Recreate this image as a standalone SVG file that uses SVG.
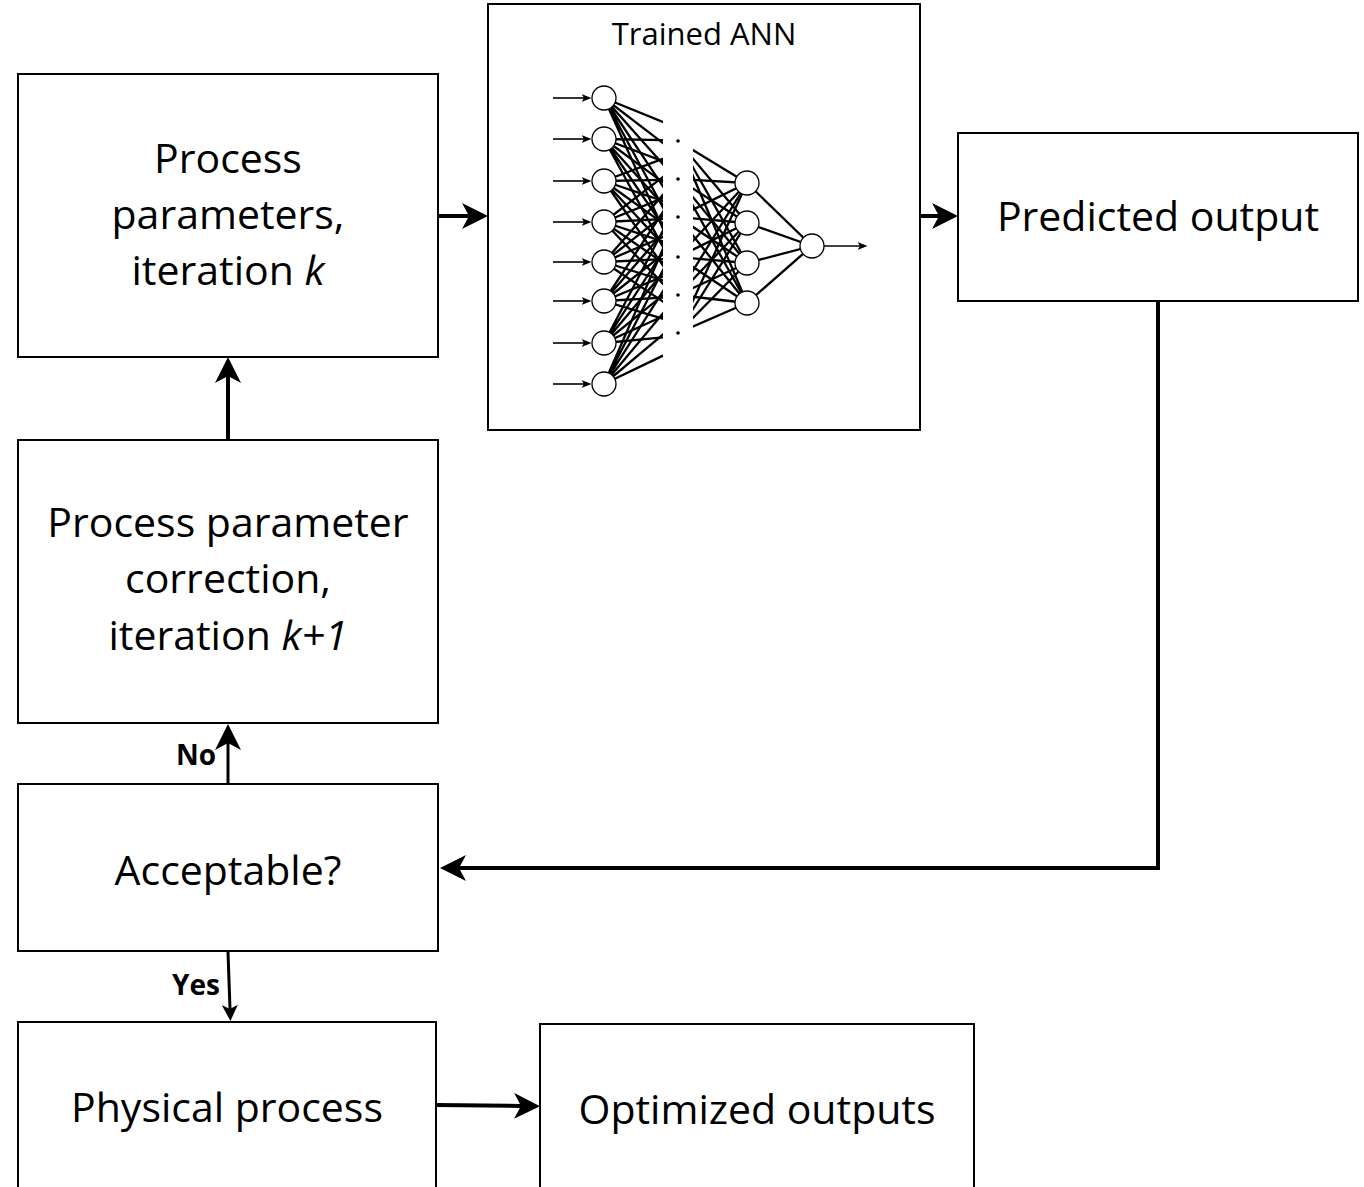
<svg xmlns="http://www.w3.org/2000/svg" width="1364" height="1187" viewBox="0 0 1364 1187">
<style>
.box{fill:#fff;stroke:#000;stroke-width:2}
.lbl{font-family:"Open Sans","Liberation Sans",sans-serif;font-size:41px;fill:#000;text-anchor:middle}
.ttl{font-family:"Open Sans","Liberation Sans",sans-serif;font-size:31px;fill:#000;text-anchor:middle}
.yn{font-family:"Open Sans","Liberation Sans",sans-serif;font-size:28px;font-weight:bold;fill:#000;text-anchor:end}
.conn{fill:none;stroke:#000;stroke-width:4}
.thin{fill:none;stroke:#000;stroke-width:3}
.net{fill:none;stroke:#000;stroke-width:2.3}
.io{fill:none;stroke:#000;stroke-width:1.6}
.node{fill:#fff;stroke:#000;stroke-width:1.3}
</style>
<defs>
<marker id="ah" viewBox="0 0 26 26" markerWidth="26" markerHeight="26" markerUnits="userSpaceOnUse" refX="7" refY="13" orient="auto">
<path d="M0,0 L26,13 L0,26 L7,13 z" fill="#000"/>
</marker>
<marker id="ahs" viewBox="0 0 16 16" markerWidth="16" markerHeight="16" markerUnits="userSpaceOnUse" refX="4" refY="8" orient="auto">
<path d="M0,0 L16,8 L0,16 L4,8 z" fill="#000"/>
</marker>
<marker id="ahx" viewBox="0 0 10 8" markerWidth="10" markerHeight="8" markerUnits="userSpaceOnUse" refX="2.5" refY="4" orient="auto">
<path d="M0,0 L10,4 L0,8 L2.5,4 z" fill="#000"/>
</marker>
<clipPath id="clipL"><rect x="540" y="60" width="123" height="350"/></clipPath>
<clipPath id="clipR"><rect x="693" y="60" width="80" height="350"/></clipPath>
</defs>

<g id="connectors">
<path class="conn" d="M438,216 L469,216" marker-end="url(#ah)"/>
<path class="conn" d="M920,216 L939,216" marker-end="url(#ah)"/>
<path class="conn" d="M228,440 L228,376" marker-end="url(#ah)"/>
<path class="thin" d="M228,784 L228,743" marker-end="url(#ah)"/>
<path class="thin" d="M228,952 L230,1009" marker-end="url(#ahs)"/>
<path class="conn" d="M1158,301 L1158,868 L459,868" marker-end="url(#ah)"/>
<path class="conn" d="M436,1105 L521,1106" marker-end="url(#ah)"/>
<text class="yn" x="216" y="765">No</text>
<text class="yn" x="220" y="995">Yes</text>
</g>

<g id="node-params">
<rect class="box" x="18" y="74" width="420" height="283"/>
<text class="lbl" x="228" y="173">Process</text>
<text class="lbl" x="228" y="229">parameters,</text>
<text class="lbl" x="228" y="285">iteration <tspan font-style="italic">k</tspan></text>
</g>

<g id="node-ann">
<rect class="box" x="488" y="4" width="432" height="426"/>
<text class="ttl" x="704" y="45">Trained ANN</text>
<g clip-path="url(#clipL)">
<path class="net" d="M604,98L710,141M604,98L710,179M604,98L710,217M604,98L710,257M604,98L710,295M604,98L710,333"/>
<path class="net" d="M604,139L710,141M604,139L710,179M604,139L710,217M604,139L710,257M604,139L710,295M604,139L710,333"/>
<path class="net" d="M604,181L710,141M604,181L710,179M604,181L710,217M604,181L710,257M604,181L710,295M604,181L710,333"/>
<path class="net" d="M604,222L710,141M604,222L710,179M604,222L710,217M604,222L710,257M604,222L710,295M604,222L710,333"/>
<path class="net" d="M604,262L710,141M604,262L710,179M604,262L710,217M604,262L710,257M604,262L710,295M604,262L710,333"/>
<path class="net" d="M604,301L710,141M604,301L710,179M604,301L710,217M604,301L710,257M604,301L710,295M604,301L710,333"/>
<path class="net" d="M604,343L710,141M604,343L710,179M604,343L710,217M604,343L710,257M604,343L710,295M604,343L710,333"/>
<path class="net" d="M604,384L710,141M604,384L710,179M604,384L710,217M604,384L710,257M604,384L710,295M604,384L710,333"/>
</g>
<g clip-path="url(#clipR)">
<path class="net" d="M678,141L747,183M678,141L747,223M678,141L747,263M678,141L747,303"/>
<path class="net" d="M678,179L747,183M678,179L747,223M678,179L747,263M678,179L747,303"/>
<path class="net" d="M678,217L747,183M678,217L747,223M678,217L747,263M678,217L747,303"/>
<path class="net" d="M678,257L747,183M678,257L747,223M678,257L747,263M678,257L747,303"/>
<path class="net" d="M678,295L747,183M678,295L747,223M678,295L747,263M678,295L747,303"/>
<path class="net" d="M678,333L747,183M678,333L747,223M678,333L747,263M678,333L747,303"/>
</g>
<path class="net" d="M747,183L812,246M747,223L812,246M747,263L812,246M747,303L812,246"/>
<g fill="#000">
<circle cx="678" cy="141" r="1.8"/><circle cx="678" cy="179" r="1.8"/><circle cx="678" cy="217" r="1.8"/>
<circle cx="678" cy="257" r="1.8"/><circle cx="678" cy="295" r="1.8"/><circle cx="678" cy="333" r="1.8"/>
</g>
<path class="io" d="M553,98L584,98" marker-end="url(#ahx)"/>
<path class="io" d="M553,139L584,139" marker-end="url(#ahx)"/>
<path class="io" d="M553,181L584,181" marker-end="url(#ahx)"/>
<path class="io" d="M553,222L584,222" marker-end="url(#ahx)"/>
<path class="io" d="M553,262L584,262" marker-end="url(#ahx)"/>
<path class="io" d="M553,301L584,301" marker-end="url(#ahx)"/>
<path class="io" d="M553,343L584,343" marker-end="url(#ahx)"/>
<path class="io" d="M553,384L584,384" marker-end="url(#ahx)"/>
<path class="io" d="M824,246L860,246" marker-end="url(#ahx)"/>
<circle class="node" cx="604" cy="98" r="12"/>
<circle class="node" cx="604" cy="139" r="12"/>
<circle class="node" cx="604" cy="181" r="12"/>
<circle class="node" cx="604" cy="222" r="12"/>
<circle class="node" cx="604" cy="262" r="12"/>
<circle class="node" cx="604" cy="301" r="12"/>
<circle class="node" cx="604" cy="343" r="12"/>
<circle class="node" cx="604" cy="384" r="12"/>
<circle class="node" cx="747" cy="183" r="12"/>
<circle class="node" cx="747" cy="223" r="12"/>
<circle class="node" cx="747" cy="263" r="12"/>
<circle class="node" cx="747" cy="303" r="12"/>
<circle class="node" cx="812" cy="246" r="12"/>
</g>

<g id="node-predicted">
<rect class="box" x="958" y="133" width="400" height="168"/>
<text class="lbl" x="1158" y="231">Predicted output</text>
</g>

<g id="node-correction">
<rect class="box" x="18" y="440" width="420" height="283"/>
<text class="lbl" x="228" y="537">Process parameter</text>
<text class="lbl" x="228" y="593">correction,</text>
<text class="lbl" x="228" y="650">iteration <tspan font-style="italic">k+1</tspan></text>
</g>

<g id="node-acceptable">
<rect class="box" x="18" y="784" width="420" height="167"/>
<text class="lbl" x="228" y="885">Acceptable?</text>
</g>

<g id="node-physical">
<rect class="box" x="18" y="1022" width="418" height="175"/>
<text class="lbl" x="227" y="1122">Physical process</text>
</g>

<g id="node-optimized">
<rect class="box" x="540" y="1024" width="434" height="173"/>
<text class="lbl" x="757" y="1124">Optimized outputs</text>
</g>
</svg>
